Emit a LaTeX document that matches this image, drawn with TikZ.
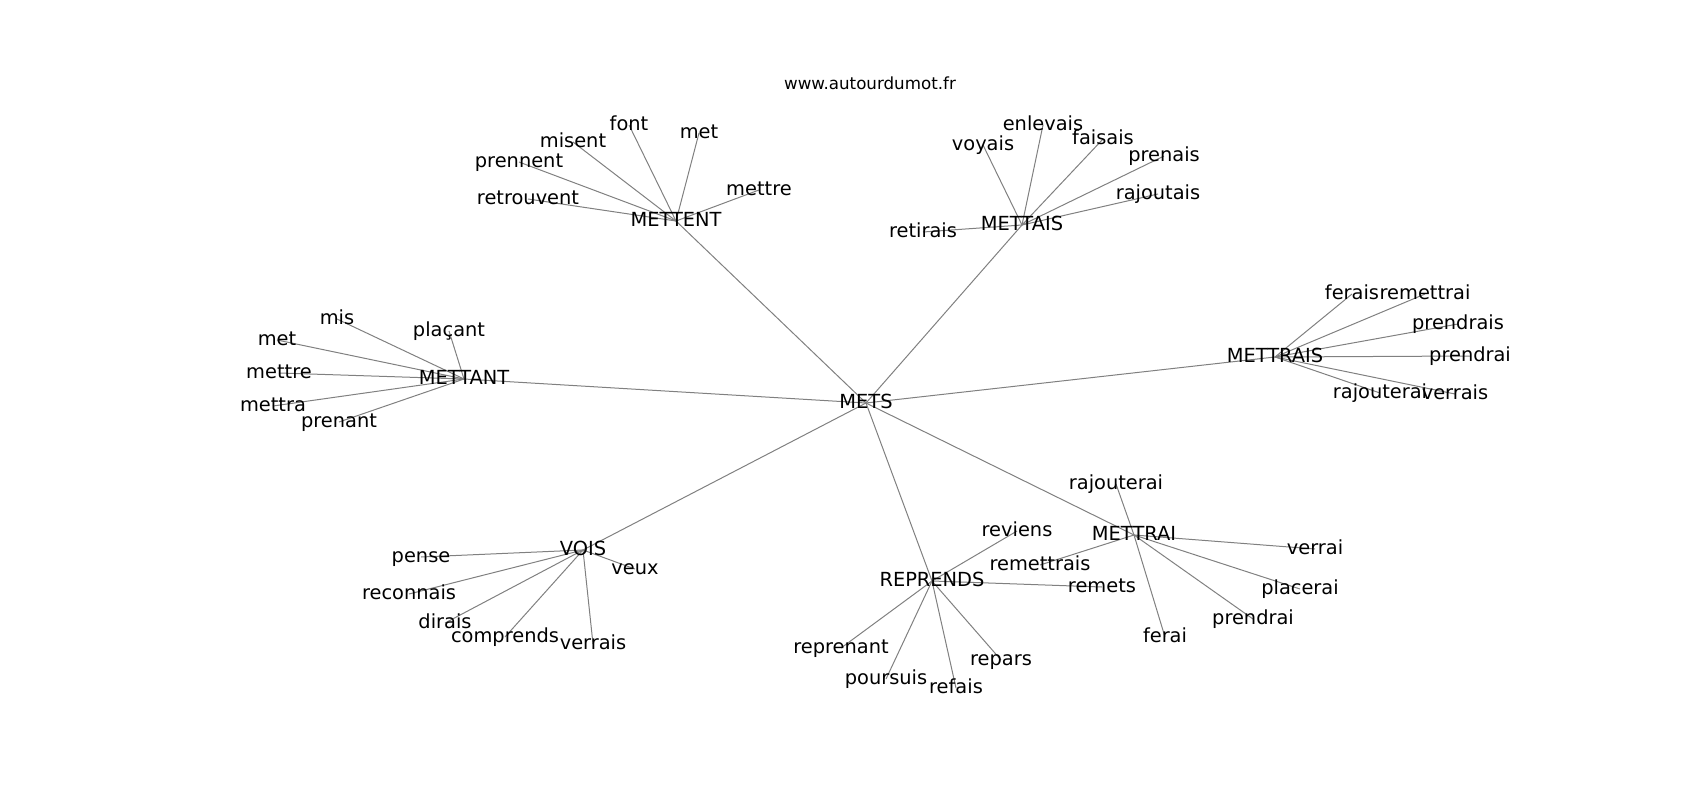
\documentclass[tikz,border=0pt]{standalone}
\usepackage{fontspec}
\setmainfont{DejaVu Sans}
\usetikzlibrary{backgrounds}
\begin{document}
\begin{tikzpicture}[x=1pt,y=-1pt,
    word/.style={font=\fontsize{19.4}{23}\selectfont,inner sep=0pt,text height=14.7pt,text depth=4.7pt},
    link/.style={draw=gray,line width=1pt}]
    \useasboundingbox (0,0) rectangle (1700,800);
    \node[font=\fontsize{16.7}{20}\selectfont] (site) at (870,83) {www.autourdumot.fr};
    \begin{scope}[yshift=-2pt]
        \node[word] (mets) at (866,401) {METS};
        \node[word] (mettent) at (676,219) {METTENT};
        \node[word] (mettais) at (1022,223) {METTAIS};
        \node[word] (mettrais) at (1275,355) {METTRAIS};
        \node[word] (mettant) at (464,377) {METTANT};
        \node[word] (vois) at (583,548) {VOIS};
        \node[word] (reprends) at (932,579) {REPRENDS};
        \node[word] (mettrai) at (1134,533) {METTRAI};
        \node[word] (a1) at (528,197) {retrouvent};
        \node[word] (a2) at (519,160) {prennent};
        \node[word] (a3) at (573,140) {misent};
        \node[word] (a4) at (629,123) {font};
        \node[word] (a5) at (699,131) {met};
        \node[word] (a6) at (759,188) {mettre};
        \node[word] (b1) at (923,230) {retirais};
        \node[word] (b2) at (983,143) {voyais};
        \node[word] (b3) at (1043,123) {enlevais};
        \node[word] (b4) at (1103,137) {faisais};
        \node[word] (b5) at (1164,154) {prenais};
        \node[word] (b6) at (1158,192) {rajoutais};
        \node[word] (c1) at (1352,292) {ferais};
        \node[word] (c2) at (1425,292) {remettrai};
        \node[word] (c3) at (1458,322) {prendrais};
        \node[word] (c4) at (1470,354) {prendrai};
        \node[word] (c5) at (1380,391) {rajouterai};
        \node[word] (c6) at (1455,392) {verrais};
        \node[word] (d1) at (337,317) {mis};
        \node[word] (d2) at (449,329) {plaçant};
        \node[word] (d3) at (277,338) {met};
        \node[word] (d4) at (279,371) {mettre};
        \node[word] (d5) at (273,404) {mettra};
        \node[word] (d6) at (339,420) {prenant};
        \node[word] (e1) at (421,555) {pense};
        \node[word] (e2) at (635,567) {veux};
        \node[word] (e3) at (409,592) {reconnais};
        \node[word] (e4) at (445,621) {dirais};
        \node[word] (e5) at (505,635) {comprends};
        \node[word] (e6) at (593,642) {verrais};
        \node[word] (f1) at (1017,529) {reviens};
        \node[word] (f2) at (1102,585) {remets};
        \node[word] (f3) at (841,646) {reprenant};
        \node[word] (f4) at (886,677) {poursuis};
        \node[word] (f5) at (956,686) {refais};
        \node[word] (f6) at (1001,658) {repars};
        \node[word] (g1) at (1116,482) {rajouterai};
        \node[word] (g2) at (1040,563) {remettrais};
        \node[word] (g3) at (1315,547) {verrai};
        \node[word] (g4) at (1300,587) {placerai};
        \node[word] (g5) at (1253,617) {prendrai};
        \node[word] (g6) at (1165,635) {ferai};
    \end{scope}
    \begin{scope}[on background layer]
        \foreach \h in {mettent,mettais,mettrais,mettant,vois,reprends,mettrai}
            \draw[link] (mets.center) -- (\h.center);
        \foreach \h/\l in {mettent/a,mettais/b,mettrais/c,mettant/d,vois/e,reprends/f,mettrai/g}
            \foreach \i in {1,...,6}
                \draw[link] (\h.center) -- (\l\i.center);
    \end{scope}
\end{tikzpicture}
\end{document}
